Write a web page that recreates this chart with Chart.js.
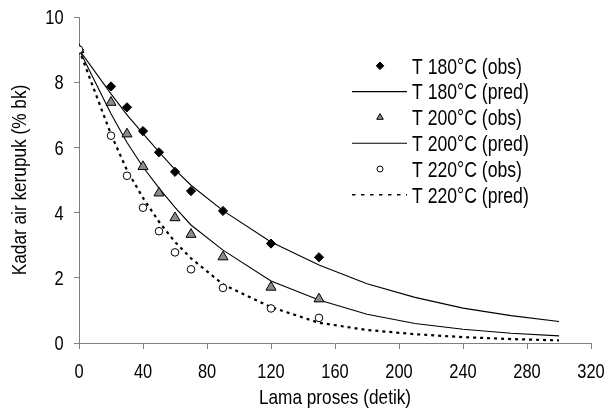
<!DOCTYPE html>
<html>
<head>
<meta charset="utf-8">
<script src="https://cdn.jsdelivr.net/npm/chart.js@4.4.0/dist/chart.umd.min.js"></script>
<style>
    html, body { margin: 0; padding: 0; background: #fff; }
    #wrap { width: 609px; height: 411px; }
</style>
</head>
<body>
<div id="wrap"><canvas id="chart"></canvas></div>
<script>
// observed moisture content (% bk) vs time (detik)
const obsTime = [0, 20, 30, 40, 50, 60, 70, 90, 120, 150];
const obs180 = [9.0, 7.87, 7.23, 6.5, 5.85, 5.25, 4.66, 4.05, 3.05, 2.63];
const obs200 = [9.0, 7.38, 6.41, 5.41, 4.6, 3.84, 3.33, 2.64, 1.71, 1.35];
const obs220 = [9.0, 6.36, 5.13, 4.15, 3.43, 2.78, 2.26, 1.69, 1.06, 0.77];

// predicted curves
const predTime = [0, 20, 30, 40, 50, 60, 70, 90, 120, 150, 180, 210, 240, 270, 300];
const pred180 = [9.0, 7.64, 7.0, 6.42, 5.86, 5.32, 4.84, 4.06, 3.1, 2.39, 1.82, 1.4, 1.07, 0.84, 0.66];
const pred200 = [9.0, 7.03, 6.15, 5.4, 4.75, 4.16, 3.62, 2.85, 1.9, 1.32, 0.88, 0.6, 0.42, 0.3, 0.22];
const pred220 = [9.0, 6.4, 5.3, 4.45, 3.72, 3.1, 2.6, 1.8, 1.1, 0.62, 0.4, 0.27, 0.18, 0.12, 0.08];

const labels = ['T 180°C (obs)', 'T 180°C (pred)', 'T 200°C (obs)', 'T 200°C (pred)', 'T 220°C (obs)', 'T 220°C (pred)'];
const xTitle = 'Lama proses (detik)';
const yTitle = 'Kadar air kerupuk (% bk)';

const fontFamily = '"Liberation Sans", Arial, sans-serif';
const narrow = 0.82; // the original text is a narrow face
const axisGray = '#808080';

function toPoints(xs, ys) {
    return xs.map((x, i) => ({ x: x, y: ys[i] }));
}

function obsSet(label, ys, style, fill, radius, order) {
    return {
        label: label,
        data: toPoints(obsTime, ys),
        showLine: false,
        pointStyle: style,
        pointRadius: radius,
        pointBackgroundColor: fill,
        pointBorderColor: '#000',
        pointBorderWidth: 1,
        order: order
    };
}

function predSet(label, ys, dash, width) {
    return {
        label: label,
        data: toPoints(predTime, ys),
        showLine: true,
        pointRadius: 0,
        borderColor: '#000',
        borderWidth: width,
        borderDash: dash,
        fill: false,
        tension: 0,
        order: 5
    };
}

// squeezed text, baseline at y
function narrowText(ctx, text, x, y, size, align, rotate) {
    ctx.save();
    ctx.translate(x, y);
    if (rotate) ctx.rotate(-Math.PI / 2);
    ctx.scale(narrow, 1);
    ctx.font = size + 'px ' + fontFamily;
    ctx.textAlign = align;
    ctx.textBaseline = 'alphabetic';
    ctx.fillStyle = '#000';
    ctx.fillText(text, 0, 0);
    ctx.restore();
}

// tick labels and axis titles
const axisText = {
    id: 'axisText',
    afterDraw(chart) {
        const ctx = chart.ctx;
        const xs = chart.scales.x, ys = chart.scales.y;
        const area = chart.chartArea;
        xs.ticks.forEach(t => {
            narrowText(ctx, String(t.value), xs.getPixelForValue(t.value), 377.5, 20, 'center');
        });
        ys.ticks.forEach(t => {
            narrowText(ctx, String(t.value), 63.5, ys.getPixelForValue(t.value) + 7.2, 20, 'right');
        });
        narrowText(ctx, xTitle, (area.left + area.right) / 2, 404, 21, 'center');
        narrowText(ctx, yTitle, 25.5, (area.top + area.bottom) / 2, 21, 'center', true);
    }
};

// legend drawn inside the plot, to the right
const sideLegend = {
    id: 'sideLegend',
    afterDraw(chart) {
        const ctx = chart.ctx;
        const top = 65.8, step = 25.8;
        chart.data.datasets.forEach((ds, i) => {
            const y = top + i * step;
            ctx.save();
            if (ds.showLine) {
                ctx.strokeStyle = '#000';
                ctx.lineWidth = ds.borderDash.length ? 1.6 : 1.1;
                ctx.setLineDash(ds.borderDash.length ? [3.5, 5.5] : []);
                ctx.beginPath();
                ctx.moveTo(352, y);
                ctx.lineTo(407, y);
                ctx.stroke();
            } else {
                ctx.fillStyle = ds.pointBackgroundColor;
                ctx.strokeStyle = '#000';
                ctx.lineWidth = 1;
                Chart.helpers.drawPoint(ctx, {
                    pointStyle: ds.pointStyle,
                    radius: ds.pointStyle === 'circle' ? 3 : 3.8,
                    rotation: 0,
                    borderWidth: 1
                }, 380, y);
            }
            ctx.restore();
            narrowText(ctx, ds.label, 412, y + 7.7, 21.5, 'left');
        });
    }
};

const chart = new Chart(document.getElementById('chart'), {
    type: 'scatter',
    data: {
        datasets: [
            obsSet(labels[0], obs180, 'rectRot', '#000', 4.6, 3),
            predSet(labels[1], pred180, [], 1.1),
            obsSet(labels[2], obs200, 'triangle', '#8c8c8c', 5.8, 2),
            predSet(labels[3], pred200, [], 1.1),
            obsSet(labels[4], obs220, 'circle', '#fff', 3.8, 1),
            predSet(labels[5], pred220, [3, 4], 2.2)
        ]
    },
    options: {
        responsive: true,
        maintainAspectRatio: false,
        animation: false,
        layout: { padding: { top: 17, right: 18, bottom: 0, left: 0 } },
        plugins: {
            legend: { display: false },
            tooltip: { enabled: false }
        },
        scales: {
            x: {
                type: 'linear',
                min: 0,
                max: 320,
                ticks: { stepSize: 40, display: false },
                grid: { drawOnChartArea: false, drawTicks: true, tickLength: 6, color: axisGray },
                border: { color: axisGray, width: 1 },
                afterFit(scale) { scale.height = 68; }
            },
            y: {
                min: 0,
                max: 10,
                ticks: { stepSize: 2, display: false },
                grid: { drawOnChartArea: false, drawTicks: true, tickLength: 5, color: axisGray },
                border: { color: axisGray, width: 1 },
                afterFit(scale) { scale.width = 79; }
            }
        }
    },
    plugins: [axisText, sideLegend]
});
</script>
</body>
</html>
